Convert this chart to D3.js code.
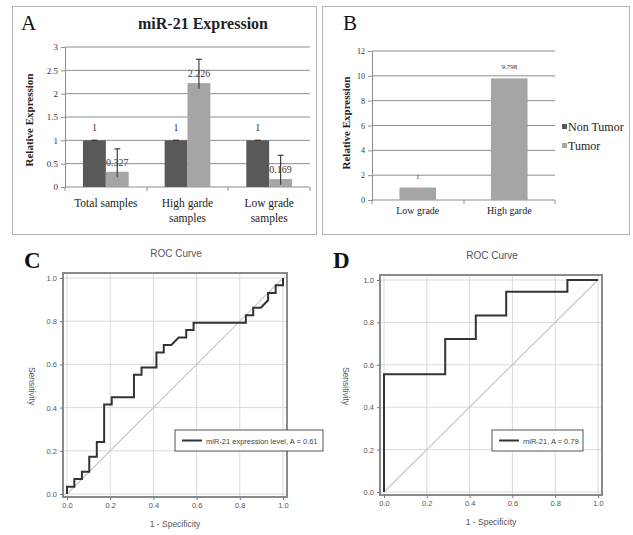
<!DOCTYPE html>
<html>
<head>
<meta charset="utf-8">
<script src="https://cdn.jsdelivr.net/npm/d3@7"></script>
<style>
  body { margin: 0; background: #fff; }
  svg { display: block; }
</style>
</head>
<body>
<svg id="fig" width="633" height="535"></svg>
<script>
// panel A: miR-21 expression, tumor vs non tumor
var groupsA = ["Total samples", "High garde samples", "Low grade samples"];
var labelsA = [["Total samples"], ["High garde", "samples"], ["Low grade", "samples"]];
var nonTumorA = [1, 1, 1];
var tumorA = [0.327, 2.226, 0.169];
var tumorErrA = [0.49, 0.51, 0.51];
var ticksA = [0, 0.5, 1, 1.5, 2, 2.5, 3];

// panel B: tumor by grade
var groupsB = ["Low grade", "High garde"];
var valuesB = [1, 9.798];
var labelsB = ["1", "9.798"];
var ticksB = [0, 2, 4, 6, 8, 10, 12];
var legendB = ["Non Tumor", "Tumor"];

// panels C and D: ROC curves (1 - specificity, sensitivity)
var rocCx = [0, 0, 0.034, 0.034, 0.069, 0.069, 0.103, 0.103, 0.138, 0.138, 0.172, 0.172, 0.207, 0.207,
             0.310, 0.310, 0.345, 0.345, 0.414, 0.414, 0.448, 0.448, 0.483, 0.517, 0.552, 0.552,
             0.586, 0.586, 0.828, 0.828, 0.862, 0.862, 0.897, 0.931, 0.931, 0.966, 0.966, 1, 1];
var rocCy = [0, 0.034, 0.034, 0.069, 0.069, 0.103, 0.103, 0.172, 0.172, 0.241, 0.241, 0.414, 0.414, 0.448,
             0.448, 0.552, 0.552, 0.586, 0.586, 0.655, 0.655, 0.690, 0.690, 0.724, 0.724, 0.759,
             0.759, 0.793, 0.793, 0.828, 0.828, 0.862, 0.862, 0.897, 0.931, 0.931, 0.966, 0.966, 1];
var rocDx = [0, 0, 0.286, 0.286, 0.429, 0.429, 0.571, 0.571, 0.857, 0.857, 1];
var rocDy = [0, 0.556, 0.556, 0.722, 0.722, 0.833, 0.833, 0.944, 0.944, 1, 1];
var rocTicks = [0, 0.2, 0.4, 0.6, 0.8, 1.0];

var colors = ["#595959", "#a5a5a5"];
var serif = "'Liberation Serif', 'Times New Roman', serif";
var sans = "'Liberation Sans', Arial, sans-serif";

var svg = d3.select("#fig");
svg.append("rect").attr("width", 633).attr("height", 535).attr("fill", "#fff");

// panel boxes
svg.append("rect").attr("x", 12.5).attr("y", 6.5).attr("width", 304).attr("height", 228)
  .attr("fill", "none").attr("stroke", "#b5b5b5");
svg.append("rect").attr("x", 322.5).attr("y", 6.5).attr("width", 307).attr("height", 228)
  .attr("fill", "none").attr("stroke", "#b5b5b5");

// ---------- panel A ----------
var gA = svg.append("g");
var xA = d3.scaleBand().domain(groupsA).range([65, 310]).paddingInner(0.44).paddingOuter(0.22);
var xA1 = d3.scaleBand().domain([0, 1]).range([0, xA.bandwidth()]);
var yA = d3.scaleLinear().domain([0, 3]).range([187, 47]);

gA.selectAll(".grid").data(ticksA.slice(1)).enter().append("line")
  .attr("x1", 65).attr("x2", 310)
  .attr("y1", function(d){ return yA(d); }).attr("y2", function(d){ return yA(d); })
  .attr("stroke", "#8e8e8e");

var axA = gA.append("g").attr("transform", "translate(65,0)")
  .call(d3.axisLeft(yA).tickValues(ticksA).tickSize(4).tickFormat(d3.format("~g")));
axA.select(".domain").attr("stroke", "#8e8e8e");
axA.selectAll(".tick line").attr("stroke", "#8e8e8e");
axA.selectAll("text").attr("font-family", serif).attr("font-size", 9).attr("fill", "#333");

gA.append("line").attr("x1", 65).attr("x2", 310).attr("y1", yA(0)).attr("y2", yA(0)).attr("stroke", "#8e8e8e");
// category separators
var bounds = [65, 147, 228, 310];
gA.selectAll(".sep").data(bounds).enter().append("line")
  .attr("x1", function(d){ return d; }).attr("x2", function(d){ return d; })
  .attr("y1", yA(0)).attr("y2", yA(0) + 4).attr("stroke", "#8e8e8e");

var series = [nonTumorA, tumorA];
series.forEach(function(vals, s){
  gA.selectAll(".bar" + s).data(vals).enter().append("rect")
    .attr("x", function(d, i){ return xA(groupsA[i]) + xA1(s); })
    .attr("y", function(d){ return yA(d); })
    .attr("width", xA1.bandwidth())
    .attr("height", function(d){ return yA(0) - yA(d); })
    .attr("fill", colors[s]);
});

// error bars (plus direction)
gA.selectAll(".err").data(tumorA).enter().append("g").each(function(d, i){
  var cx = xA(groupsA[i]) + xA1(1) + xA1.bandwidth() / 2;
  var g = d3.select(this);
  g.append("line").attr("x1", cx).attr("x2", cx)
    .attr("y1", yA(Math.max(0.05, d - 0.12))).attr("y2", yA(d + tumorErrA[i]))
    .attr("stroke", "#404040").attr("stroke-width", 1.2);
  g.append("line").attr("x1", cx - 3).attr("x2", cx + 3)
    .attr("y1", yA(d + tumorErrA[i])).attr("y2", yA(d + tumorErrA[i]))
    .attr("stroke", "#404040").attr("stroke-width", 1.2);
});
gA.selectAll(".cap0").data(nonTumorA).enter().append("line")
  .attr("x1", function(d, i){ return xA(groupsA[i]) + xA1.bandwidth() / 2 - 3; })
  .attr("x2", function(d, i){ return xA(groupsA[i]) + xA1.bandwidth() / 2 + 3; })
  .attr("y1", function(d){ return yA(d); }).attr("y2", function(d){ return yA(d); })
  .attr("stroke", "#333").attr("stroke-width", 1.2);

// value labels
gA.selectAll(".lab0").data(nonTumorA).enter().append("text")
  .attr("x", function(d, i){ return xA(groupsA[i]) + xA1.bandwidth() / 2; })
  .attr("y", function(d){ return yA(d) - 9; })
  .attr("text-anchor", "middle").attr("font-family", serif).attr("font-size", 10).attr("fill", "#333")
  .text(function(d){ return d; });
gA.selectAll(".lab1").data(tumorA).enter().append("text")
  .attr("x", function(d, i){ return xA(groupsA[i]) + xA1(1) + xA1.bandwidth() / 2; })
  .attr("y", function(d){ return yA(d) - 6; })
  .attr("text-anchor", "middle").attr("font-family", serif).attr("font-size", 10).attr("fill", "#3a3a3a")
  .text(function(d){ return d; });

// category labels
labelsA.forEach(function(lines, i){
  lines.forEach(function(t, k){
    gA.append("text").attr("x", xA(groupsA[i]) + xA.bandwidth() / 2).attr("y", 207 + k * 15)
      .attr("text-anchor", "middle").attr("font-family", serif).attr("font-size", 11.5).attr("fill", "#222")
      .text(t);
  });
});

gA.append("text").attr("transform", "translate(33,120) rotate(-90)")
  .attr("text-anchor", "middle").attr("font-family", serif).attr("font-weight", "bold")
  .attr("font-size", 11).attr("fill", "#222").text("Relative Expression");
gA.append("text").attr("x", 203).attr("y", 29).attr("text-anchor", "middle")
  .attr("font-family", serif).attr("font-weight", "bold").attr("font-size", 16).attr("fill", "#222")
  .text("miR-21 Expression");
gA.append("text").attr("x", 21).attr("y", 30).attr("font-family", serif).attr("font-size", 21)
  .attr("fill", "#111").text("A");

// ---------- panel B ----------
var gB = svg.append("g");
var xB = d3.scaleBand().domain(groupsB).range([372, 555]).paddingInner(0.6).paddingOuter(0.3);
var yB = d3.scaleLinear().domain([0, 12]).range([200, 51]);

gB.selectAll(".grid").data(ticksB.slice(1)).enter().append("line")
  .attr("x1", 372).attr("x2", 555)
  .attr("y1", function(d){ return yB(d); }).attr("y2", function(d){ return yB(d); })
  .attr("stroke", "#8e8e8e");
var axB = gB.append("g").attr("transform", "translate(372,0)")
  .call(d3.axisLeft(yB).tickValues(ticksB).tickSize(4));
axB.select(".domain").attr("stroke", "#8e8e8e");
axB.selectAll(".tick line").attr("stroke", "#8e8e8e");
axB.selectAll("text").attr("font-family", serif).attr("font-size", 8).attr("fill", "#333");

gB.append("line").attr("x1", 372).attr("x2", 555).attr("y1", yB(0)).attr("y2", yB(0)).attr("stroke", "#8e8e8e");
gB.selectAll(".sep").data([372, 464, 555]).enter().append("line")
  .attr("x1", function(d){ return d; }).attr("x2", function(d){ return d; })
  .attr("y1", yB(0)).attr("y2", yB(0) + 4).attr("stroke", "#8e8e8e");

gB.selectAll(".bar").data(valuesB).enter().append("rect")
  .attr("x", function(d, i){ return xB(groupsB[i]); })
  .attr("y", function(d){ return yB(d); })
  .attr("width", xB.bandwidth())
  .attr("height", function(d){ return yB(0) - yB(d); })
  .attr("fill", colors[1]);
gB.selectAll(".lab").data(valuesB).enter().append("text")
  .attr("x", function(d, i){ return xB(groupsB[i]) + xB.bandwidth() / 2; })
  .attr("y", function(d){ return yB(d) - 9; })
  .attr("text-anchor", "middle").attr("font-family", serif).attr("font-size", 7).attr("fill", "#333")
  .text(function(d, i){ return labelsB[i]; });
gB.selectAll(".cat").data(groupsB).enter().append("text")
  .attr("x", function(d){ return xB(d) + xB.bandwidth() / 2; })
  .attr("y", 214)
  .attr("text-anchor", "middle").attr("font-family", serif).attr("font-size", 10).attr("fill", "#222")
  .text(function(d){ return d; });

gB.append("text").attr("transform", "translate(350,123) rotate(-90)")
  .attr("text-anchor", "middle").attr("font-family", serif).attr("font-weight", "bold")
  .attr("font-size", 11).attr("fill", "#222").text("Relative Expression");
gB.append("text").attr("x", 343).attr("y", 30).attr("font-family", serif).attr("font-size", 21)
  .attr("fill", "#111").text("B");

legendB.forEach(function(t, i){
  gB.append("rect").attr("x", 562).attr("y", 124 + i * 19).attr("width", 5).attr("height", 5)
    .attr("fill", colors[i]);
  gB.append("text").attr("x", 568).attr("y", 131 + i * 19).attr("font-family", serif)
    .attr("font-size", 12).attr("fill", "#222").text(t);
});

// ---------- ROC panels ----------
function rocPanel(opt){
  var g = svg.append("g");
  var x = d3.scaleLinear().domain([0, 1]).range([opt.x0, opt.x1]);
  var y = d3.scaleLinear().domain([0, 1]).range([opt.y0, opt.y1]);

  g.selectAll(".gx").data(rocTicks).enter().append("line")
    .attr("x1", function(d){ return x(d); }).attr("x2", function(d){ return x(d); })
    .attr("y1", opt.y1 - 4).attr("y2", opt.y0 + 3).attr("stroke", "#dadada");
  g.selectAll(".gy").data(rocTicks).enter().append("line")
    .attr("y1", function(d){ return y(d); }).attr("y2", function(d){ return y(d); })
    .attr("x1", opt.x0 - 4).attr("x2", opt.x1 + 4).attr("stroke", "#dadada");

  g.append("rect").attr("x", opt.x0 - 4).attr("y", opt.y1 - 5)
    .attr("width", opt.x1 - opt.x0 + 8).attr("height", opt.y0 - opt.y1 + 8)
    .attr("fill", "none").attr("stroke", "#8a8a8a").attr("stroke-width", 2);

  var ax = g.append("g").attr("transform", "translate(0," + (opt.y0 + 3) + ")")
    .call(d3.axisBottom(x).tickValues(rocTicks).tickSize(3).tickFormat(d3.format(".1f")));
  ax.select(".domain").remove();
  var ay = g.append("g").attr("transform", "translate(" + (opt.x0 - 4) + ",0)")
    .call(d3.axisLeft(y).tickValues(rocTicks).tickSize(3).tickFormat(d3.format(".1f")));
  ay.select(".domain").remove();
  [ax, ay].forEach(function(a){
    a.selectAll(".tick line").attr("stroke", "#777");
    a.selectAll("text").attr("font-family", sans).attr("font-size", 7.5).attr("fill", "#555");
  });

  g.append("line").attr("x1", x(0)).attr("y1", y(0)).attr("x2", x(1)).attr("y2", y(1))
    .attr("stroke", "#c8c8c8").attr("stroke-width", 1.2);

  var pts = opt.xs.map(function(v, i){ return [v, opt.ys[i]]; });
  g.append("path").datum(pts)
    .attr("d", d3.line().x(function(d){ return x(d[0]); }).y(function(d){ return y(d[1]); }))
    .attr("fill", "none").attr("stroke", "#333").attr("stroke-width", 2);

  g.append("text").attr("x", (opt.x0 + opt.x1) / 2 + 1).attr("y", opt.y1 - 21)
    .attr("text-anchor", "middle").attr("font-family", sans).attr("font-size", 10).attr("fill", "#555")
    .text("ROC Curve");
  g.append("text").attr("x", (opt.x0 + opt.x1) / 2).attr("y", opt.y0 + 33)
    .attr("text-anchor", "middle").attr("font-family", sans).attr("font-size", 8.5).attr("fill", "#555")
    .text("1 - Specificity");
  g.append("text").attr("transform", "translate(" + opt.ylx + "," + ((opt.y0 + opt.y1) / 2) + ") rotate(90)")
    .attr("text-anchor", "middle").attr("font-family", sans).attr("font-size", 8.5).attr("fill", "#555")
    .text("Sensitivity");

  g.append("rect").attr("x", opt.lx).attr("y", opt.ly).attr("width", opt.lw).attr("height", 21)
    .attr("fill", "#fff").attr("stroke", "#555").attr("stroke-width", 1);
  g.append("line").attr("x1", opt.lx + 7).attr("x2", opt.lx + 27)
    .attr("y1", opt.ly + 10.5).attr("y2", opt.ly + 10.5).attr("stroke", "#333").attr("stroke-width", 2);
  g.append("text").attr("x", opt.lx + 31).attr("y", opt.ly + 13.5)
    .attr("font-family", sans).attr("font-size", 7.5).attr("fill", "#444").text(opt.legend);

  g.append("text").attr("x", opt.px).attr("y", 268).attr("font-family", serif)
    .attr("font-weight", "bold").attr("font-size", 23).attr("fill", "#111").text(opt.label);
}

rocPanel({ x0: 67, x1: 283, y0: 494, y1: 278, xs: rocCx, ys: rocCy, ylx: 29,
  lx: 175, ly: 430, lw: 148, legend: "miR-21 expression level, A = 0.61", label: "C", px: 24 });
rocPanel({ x0: 384, x1: 598, y0: 492, y1: 280, xs: rocDx, ys: rocDy, ylx: 343,
  lx: 492, ly: 430, lw: 91, legend: "miR-21, A = 0.79", label: "D", px: 333 });
</script>
</body>
</html>
